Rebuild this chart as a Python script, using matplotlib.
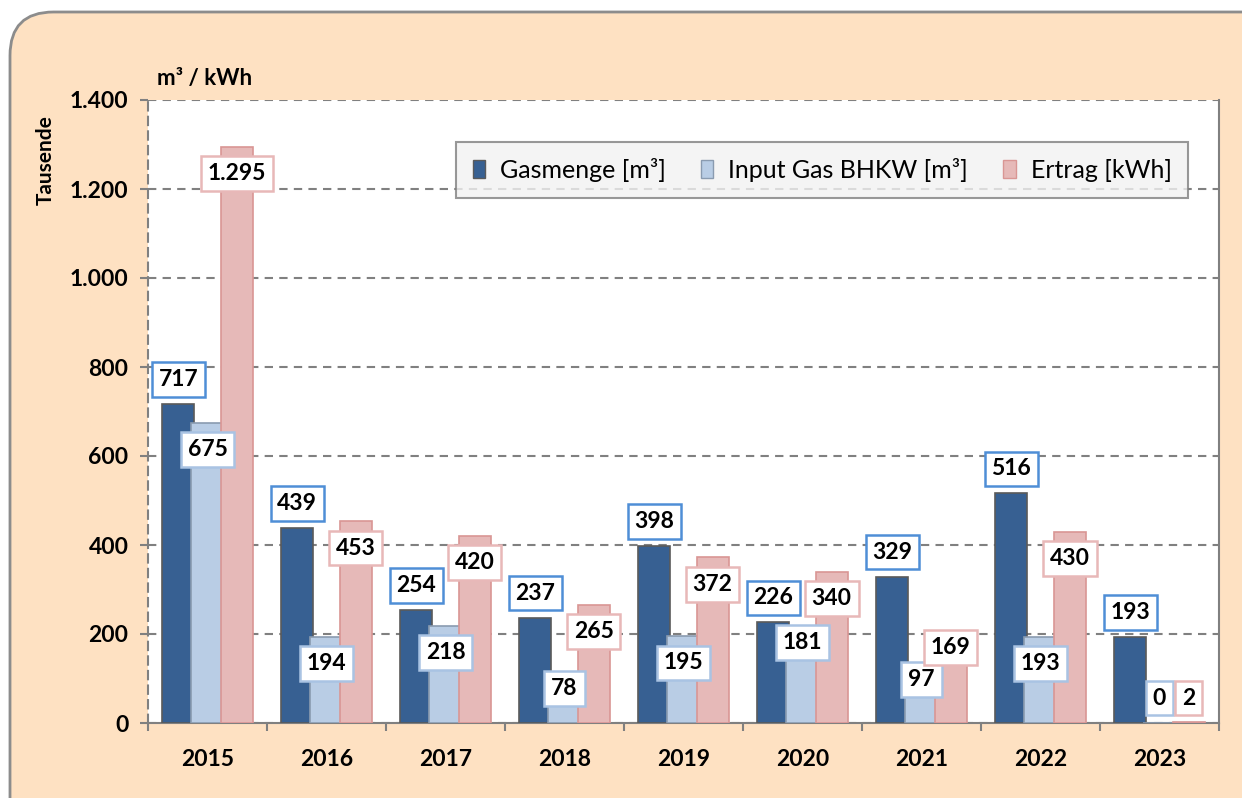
import matplotlib.pyplot as plt
import numpy as np
from matplotlib.patches import FancyBboxPatch, Patch

# Werte in Tausend
jahre = ['2015', '2016', '2017', '2018', '2019', '2020', '2021', '2022', '2023']
gasmenge = [717, 439, 254, 237, 398, 226, 329, 516, 193]
input_bhkw = [675, 194, 218, 78, 195, 181, 97, 193, 0]
ertrag = [1295, 453, 420, 265, 372, 340, 169, 430, 2]

plt.rcParams['font.family'] = ['Lato', 'DejaVu Sans']

fig = plt.figure(figsize=(12.42, 7.98), dpi=100)
fig.patch.set_facecolor('white')

# Hintergrundrahmen
rahmen = FancyBboxPatch((10 / 1242, -0.2), 1.2, 0.2 + 1 - 12 / 798,
                        boxstyle='round,pad=0,rounding_size=0.035',
                        transform=fig.transFigure, facecolor='#FEE1C2',
                        edgecolor='#8C8C8C', linewidth=2, zorder=-5,
                        mutation_aspect=1242 / 798)
fig.patches.append(rahmen)

ax = fig.add_axes([148 / 1242, 75 / 798, 1071 / 1242, 623 / 798])
ax.set_facecolor('white')

x = np.arange(len(jahre))
breite = 0.27
versatz = 0.245

serien = [
    (gasmenge, 'Gasmenge [m³]', '#376092', '#5A5A5A', '#4F8ED6'),
    (input_bhkw, 'Input Gas BHKW [m³]', '#B9CDE5', '#8A9BB0', '#A9C3E3'),
    (ertrag, 'Ertrag [kWh]', '#E6B9B8', '#D99694', '#E8B8B8'),
]

for i, (werte, name, farbe, rand, labelrand) in enumerate(serien):
    pos = x + (i - 1) * versatz
    ax.bar(pos, werte, width=breite, color=farbe, edgecolor=rand,
           linewidth=1.2, zorder=3 + i)
    for xp, v in zip(pos, werte):
        if i == 0:
            y = v + 55
        elif v >= 190:
            y = v - 60
        else:
            y = max(v, 56)
        txt = f"{v:,}".replace(',', '.')
        ax.text(xp, y, txt, ha='center', va='center', fontsize=16.5,
                fontweight='bold', color='black', zorder=10,
                bbox=dict(boxstyle='square,pad=0.3', facecolor='white',
                          edgecolor=labelrand, linewidth=1.8))

ax.set_xlim(-0.5, len(jahre) - 0.5)
ax.set_ylim(0, 1400)
ax.set_yticks(np.arange(0, 1401, 200))
ax.set_yticklabels([f"{t:,}".replace(',', '.') for t in range(0, 1401, 200)],
                   fontsize=16.5, fontweight='bold')
ax.set_xticks(x)
ax.set_xticklabels(jahre, fontsize=16.5, fontweight='bold')
ax.set_xticks(np.arange(-0.5, len(jahre), 1), minor=True)
ax.tick_params(axis='x', which='major', length=0, pad=19)
ax.tick_params(axis='x', which='minor', length=6, width=1.5, color='#808080')
ax.tick_params(axis='y', length=6, width=1.5, color='#808080', pad=8,
               direction='out')

ax.yaxis.grid(True, linestyle=(0, (4, 3)), color='#808080', linewidth=1.5,
              zorder=1)
ax.set_axisbelow(True)

ax.spines['left'].set_linestyle((0, (4, 3)))
ax.spines['left'].set_color('#808080')
ax.spines['left'].set_linewidth(1.5)
ax.spines['top'].set_visible(False)
ax.spines['right'].set_color('#808080')
ax.spines['right'].set_linewidth(1.5)
ax.spines['bottom'].set_color('#808080')
ax.spines['bottom'].set_linewidth(1.5)

fig.text(46 / 1242, 1 - 160 / 798, 'Tausende', fontsize=15,
         fontweight='bold', rotation=90, ha='center', va='center')
fig.text(157 / 1242, 1 - 78 / 798, 'm³ / kWh', fontsize=16,
         fontweight='bold', ha='left', va='center')

handles = [Patch(facecolor=s[2], edgecolor=s[3], label=s[1]) for s in serien]
leg = ax.legend(handles=handles, loc='upper right', ncol=3,
                bbox_to_anchor=(0.971, 0.933), borderaxespad=0,
                fontsize=18, frameon=True,
                fancybox=False, facecolor='#F2F2F2', edgecolor='#7F7F7F',
                handlelength=0.5, handleheight=0.75, handletextpad=0.6,
                columnspacing=1.4, borderpad=0.65)
leg.get_frame().set_linewidth(1.5)
leg.set_zorder(20)

fig.savefig('out.png', dpi=100)
